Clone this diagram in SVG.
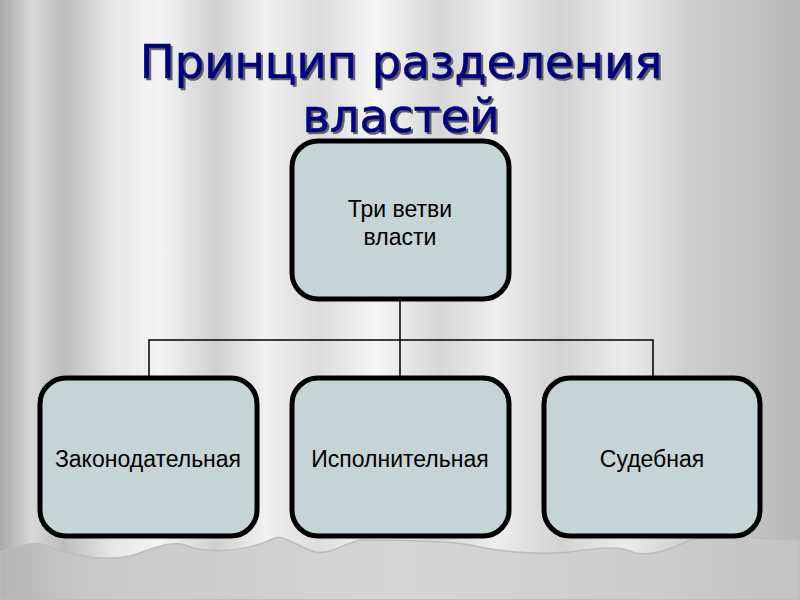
<svg xmlns="http://www.w3.org/2000/svg" width="800" height="600" viewBox="0 0 800 600">
<defs>
<linearGradient id="bg" x1="0" y1="0" x2="1" y2="0">
<stop offset="0" stop-color="#a8a8a8"/>
<stop offset="0.04" stop-color="#d8d8d8"/>
<stop offset="0.08" stop-color="#bdbdbd"/>
<stop offset="0.14" stop-color="#e6e6e6"/>
<stop offset="0.2" stop-color="#f4f4f4"/>
<stop offset="0.27" stop-color="#d0d0d0"/>
<stop offset="0.33" stop-color="#f0f0f0"/>
<stop offset="0.4" stop-color="#dcdcdc"/>
<stop offset="0.47" stop-color="#f6f6f6"/>
<stop offset="0.55" stop-color="#d6d6d6"/>
<stop offset="0.62" stop-color="#eeeeee"/>
<stop offset="0.7" stop-color="#d2d2d2"/>
<stop offset="0.78" stop-color="#ebebeb"/>
<stop offset="0.86" stop-color="#cfcfcf"/>
<stop offset="0.93" stop-color="#c4c4c4"/>
<stop offset="1" stop-color="#b8b8b8"/>
</linearGradient>
<linearGradient id="floor" x1="0" y1="0" x2="1" y2="0">
<stop offset="0" stop-color="#b4b4b4"/>
<stop offset="0.1" stop-color="#c8c8c8"/>
<stop offset="0.3" stop-color="#cfcfcf"/>
<stop offset="0.5" stop-color="#d6d6d6"/>
<stop offset="0.8" stop-color="#cdcdcd"/>
<stop offset="1" stop-color="#c2c2c2"/>
</linearGradient>
<filter id="sh" x="-5%" y="-5%" width="110%" height="120%">
<feDropShadow dx="2" dy="2" stdDeviation="0.6" flood-color="#404040" flood-opacity="0.8"/>
</filter>
</defs>
<style>
.box{fill:#c5d4d4;stroke:#000;stroke-width:5}
.lbl{font-family:"Liberation Sans",Arial,sans-serif;font-size:23px;fill:#000;text-anchor:middle}
.title{font-family:"DejaVu Sans",Verdana,sans-serif;font-size:46.5px;fill:#000080;stroke:#000080;stroke-width:0.6;text-anchor:middle}
.conn{fill:none;stroke:#000;stroke-width:1.5}
</style>
<rect x="0" y="0" width="800" height="600" fill="url(#bg)"/>
<path d="M0,552 C20,548 30,540 45,545 C70,555 100,562 130,556 C150,550 170,540 185,545 C200,552 240,555 275,538 C285,535 300,548 315,552 C330,555 340,545 360,540 C380,540 440,540 470,545 C500,552 540,555 570,552 C600,548 620,545 635,553 C650,556 670,550 690,540 C720,535 760,538 800,540 L800,600 L0,600 Z" fill="url(#floor)" stroke="#bcbcbc" stroke-width="1.5"/>
<g filter="url(#sh)">
<text class="title" x="401" y="78">Принцип разделения</text>
<text class="title" x="401" y="132">властей</text>
</g>
<g id="connectors">
<path class="conn" d="M400,299 V340 M149,377 V340 H653 V377 M400,340 V377"/>
</g>
<g id="root">
<rect class="box" x="292" y="141" width="217" height="158" rx="26"/>
<text class="lbl" x="400" y="217">Три ветви</text>
<text class="lbl" x="400" y="245">власти</text>
</g>
<g id="legislative">
<rect class="box" x="40" y="378" width="217" height="158" rx="26"/>
<text class="lbl" x="148" y="467">Законодательная</text>
</g>
<g id="executive">
<rect class="box" x="292" y="378" width="217" height="158" rx="26"/>
<text class="lbl" x="400" y="467">Исполнительная</text>
</g>
<g id="judicial">
<rect class="box" x="544" y="378" width="216" height="158" rx="26"/>
<text class="lbl" x="652" y="467">Судебная</text>
</g>
</svg>
